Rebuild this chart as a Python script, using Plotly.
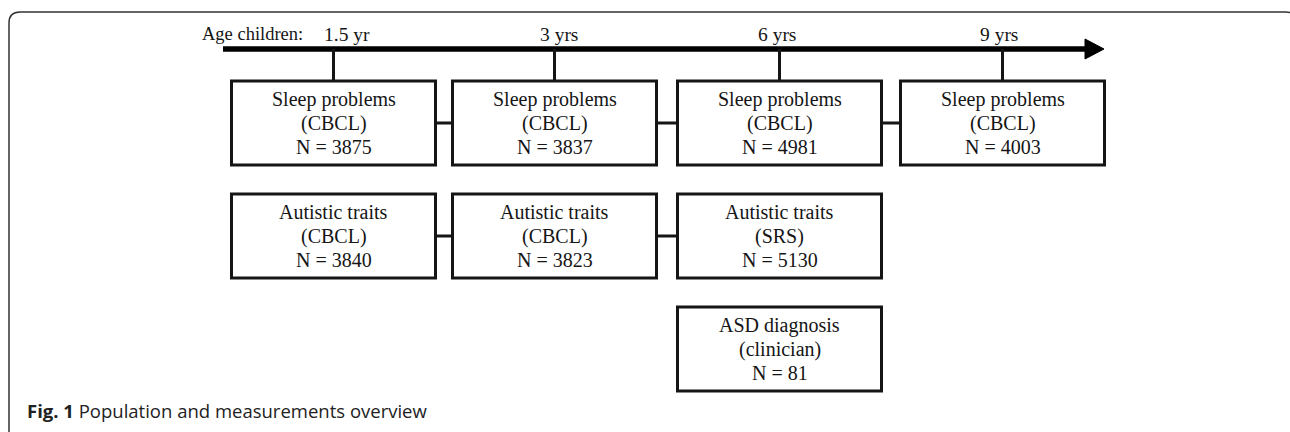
import plotly.graph_objects as go

# ---- data ----
ages = ["1.5 yr", "3 yrs", "6 yrs", "9 yrs"]
axis_title = "Age children:"
sleep_label = ["Sleep problems", "(CBCL)"]
sleep_n = [3875, 3837, 4981, 4003]
autism_label = "Autistic traits"
autism_instr = ["(CBCL)", "(CBCL)", "(SRS)"]
autism_n = [3840, 3823, 5130]
asd_label = ["ASD diagnosis", "(clinician)"]
asd_n = [81]
asd_col = 2
caption_bold = "Fig. 1"
caption_text = " Population and measurements overview"

# ---- layout geometry (pixels) ----
W, H = 1290, 432
col_x = [333.5, 554.5, 779.5, 1002.5]
label_x = [347, 559, 777, 999]
box_w = 204
box_h = 84
row_top = [81, 194, 307]
arrow_y = 49
line_gap = 24

SERIF = "Liberation Serif, Times New Roman, serif"
SANS = "Open Sans, Noto Sans, sans-serif"

shapes = []
annotations = []

def box(cx, top, lines):
    shapes.append(dict(type="rect", x0=cx - box_w / 2, x1=cx + box_w / 2,
                       y0=top, y1=top + box_h, line=dict(color="#151515", width=3),
                       fillcolor="white", layer="above"))
    cy = top + box_h / 2
    for i, t in enumerate(lines):
        annotations.append(dict(x=cx, y=cy + (i - 1) * line_gap, text=t, showarrow=False,
                                xanchor="center", yanchor="middle",
                                font=dict(family=SERIF, size=20, color="#151515")))

def connector(x0, x1, y):
    shapes.append(dict(type="line", x0=x0, x1=x1, y0=y, y1=y,
                       line=dict(color="#151515", width=3), layer="below"))

# outer frame (rounded top corners)
shapes.append(dict(type="path",
                   path="M 9,440 L 9,23 Q 9,12 20,12 L 1286,12 Q 1298,12 1298,24 L 1298,440",
                   line=dict(color="#333333", width=1.5)))

# time arrow
shapes.append(dict(type="line", x0=223, x1=1088, y0=arrow_y, y1=arrow_y,
                   line=dict(color="black", width=5.5)))
shapes.append(dict(type="path", path=f"M 1085,{arrow_y-10} L 1104,{arrow_y} L 1085,{arrow_y+10} Z",
                   fillcolor="black", line=dict(color="black", width=1)))

# ticks from arrow to first-row boxes
for cx in col_x:
    shapes.append(dict(type="line", x0=cx, x1=cx, y0=arrow_y, y1=row_top[0],
                       line=dict(color="#151515", width=3)))

# age labels
annotations.append(dict(x=200, y=34, text=axis_title, showarrow=False, xanchor="left",
                        yanchor="middle", font=dict(family=SERIF, size=18.5, color="#151515")))
for lx, a in zip(label_x, ages):
    annotations.append(dict(x=lx, y=34, text=a, showarrow=False, xanchor="center",
                            yanchor="middle", font=dict(family=SERIF, size=19.5, color="#151515")))

# row 1: sleep problems
for i, n in enumerate(sleep_n):
    box(col_x[i], row_top[0], sleep_label + [f"N = {n}"])
for i in range(len(sleep_n) - 1):
    connector(col_x[i], col_x[i + 1], row_top[0] + box_h / 2)

# row 2: autistic traits
for i, (ins, n) in enumerate(zip(autism_instr, autism_n)):
    box(col_x[i], row_top[1], [autism_label, ins, f"N = {n}"])
for i in range(len(autism_n) - 1):
    connector(col_x[i], col_x[i + 1], row_top[1] + box_h / 2)

# row 3: ASD diagnosis
for n in asd_n:
    box(col_x[asd_col], row_top[2], asd_label + [f"N = {n}"])

# caption
annotations.append(dict(x=25, y=410, text=f"<b>{caption_bold}</b>{caption_text}", showarrow=False,
                        xanchor="left", yanchor="middle",
                        font=dict(family=SANS, size=18.5, color="#222222")))

fig = go.Figure()
fig.update_layout(
    width=W, height=H, margin=dict(l=0, r=0, t=0, b=0),
    paper_bgcolor="white", plot_bgcolor="white",
    xaxis=dict(range=[0, W], visible=False, fixedrange=True),
    yaxis=dict(range=[H, 0], visible=False, fixedrange=True),
    shapes=shapes, annotations=annotations, showlegend=False,
)
fig.write_html("out.html", config={"displayModeBar": False},
               post_script="document.body.style.margin='0';document.body.style.overflow='hidden';")
